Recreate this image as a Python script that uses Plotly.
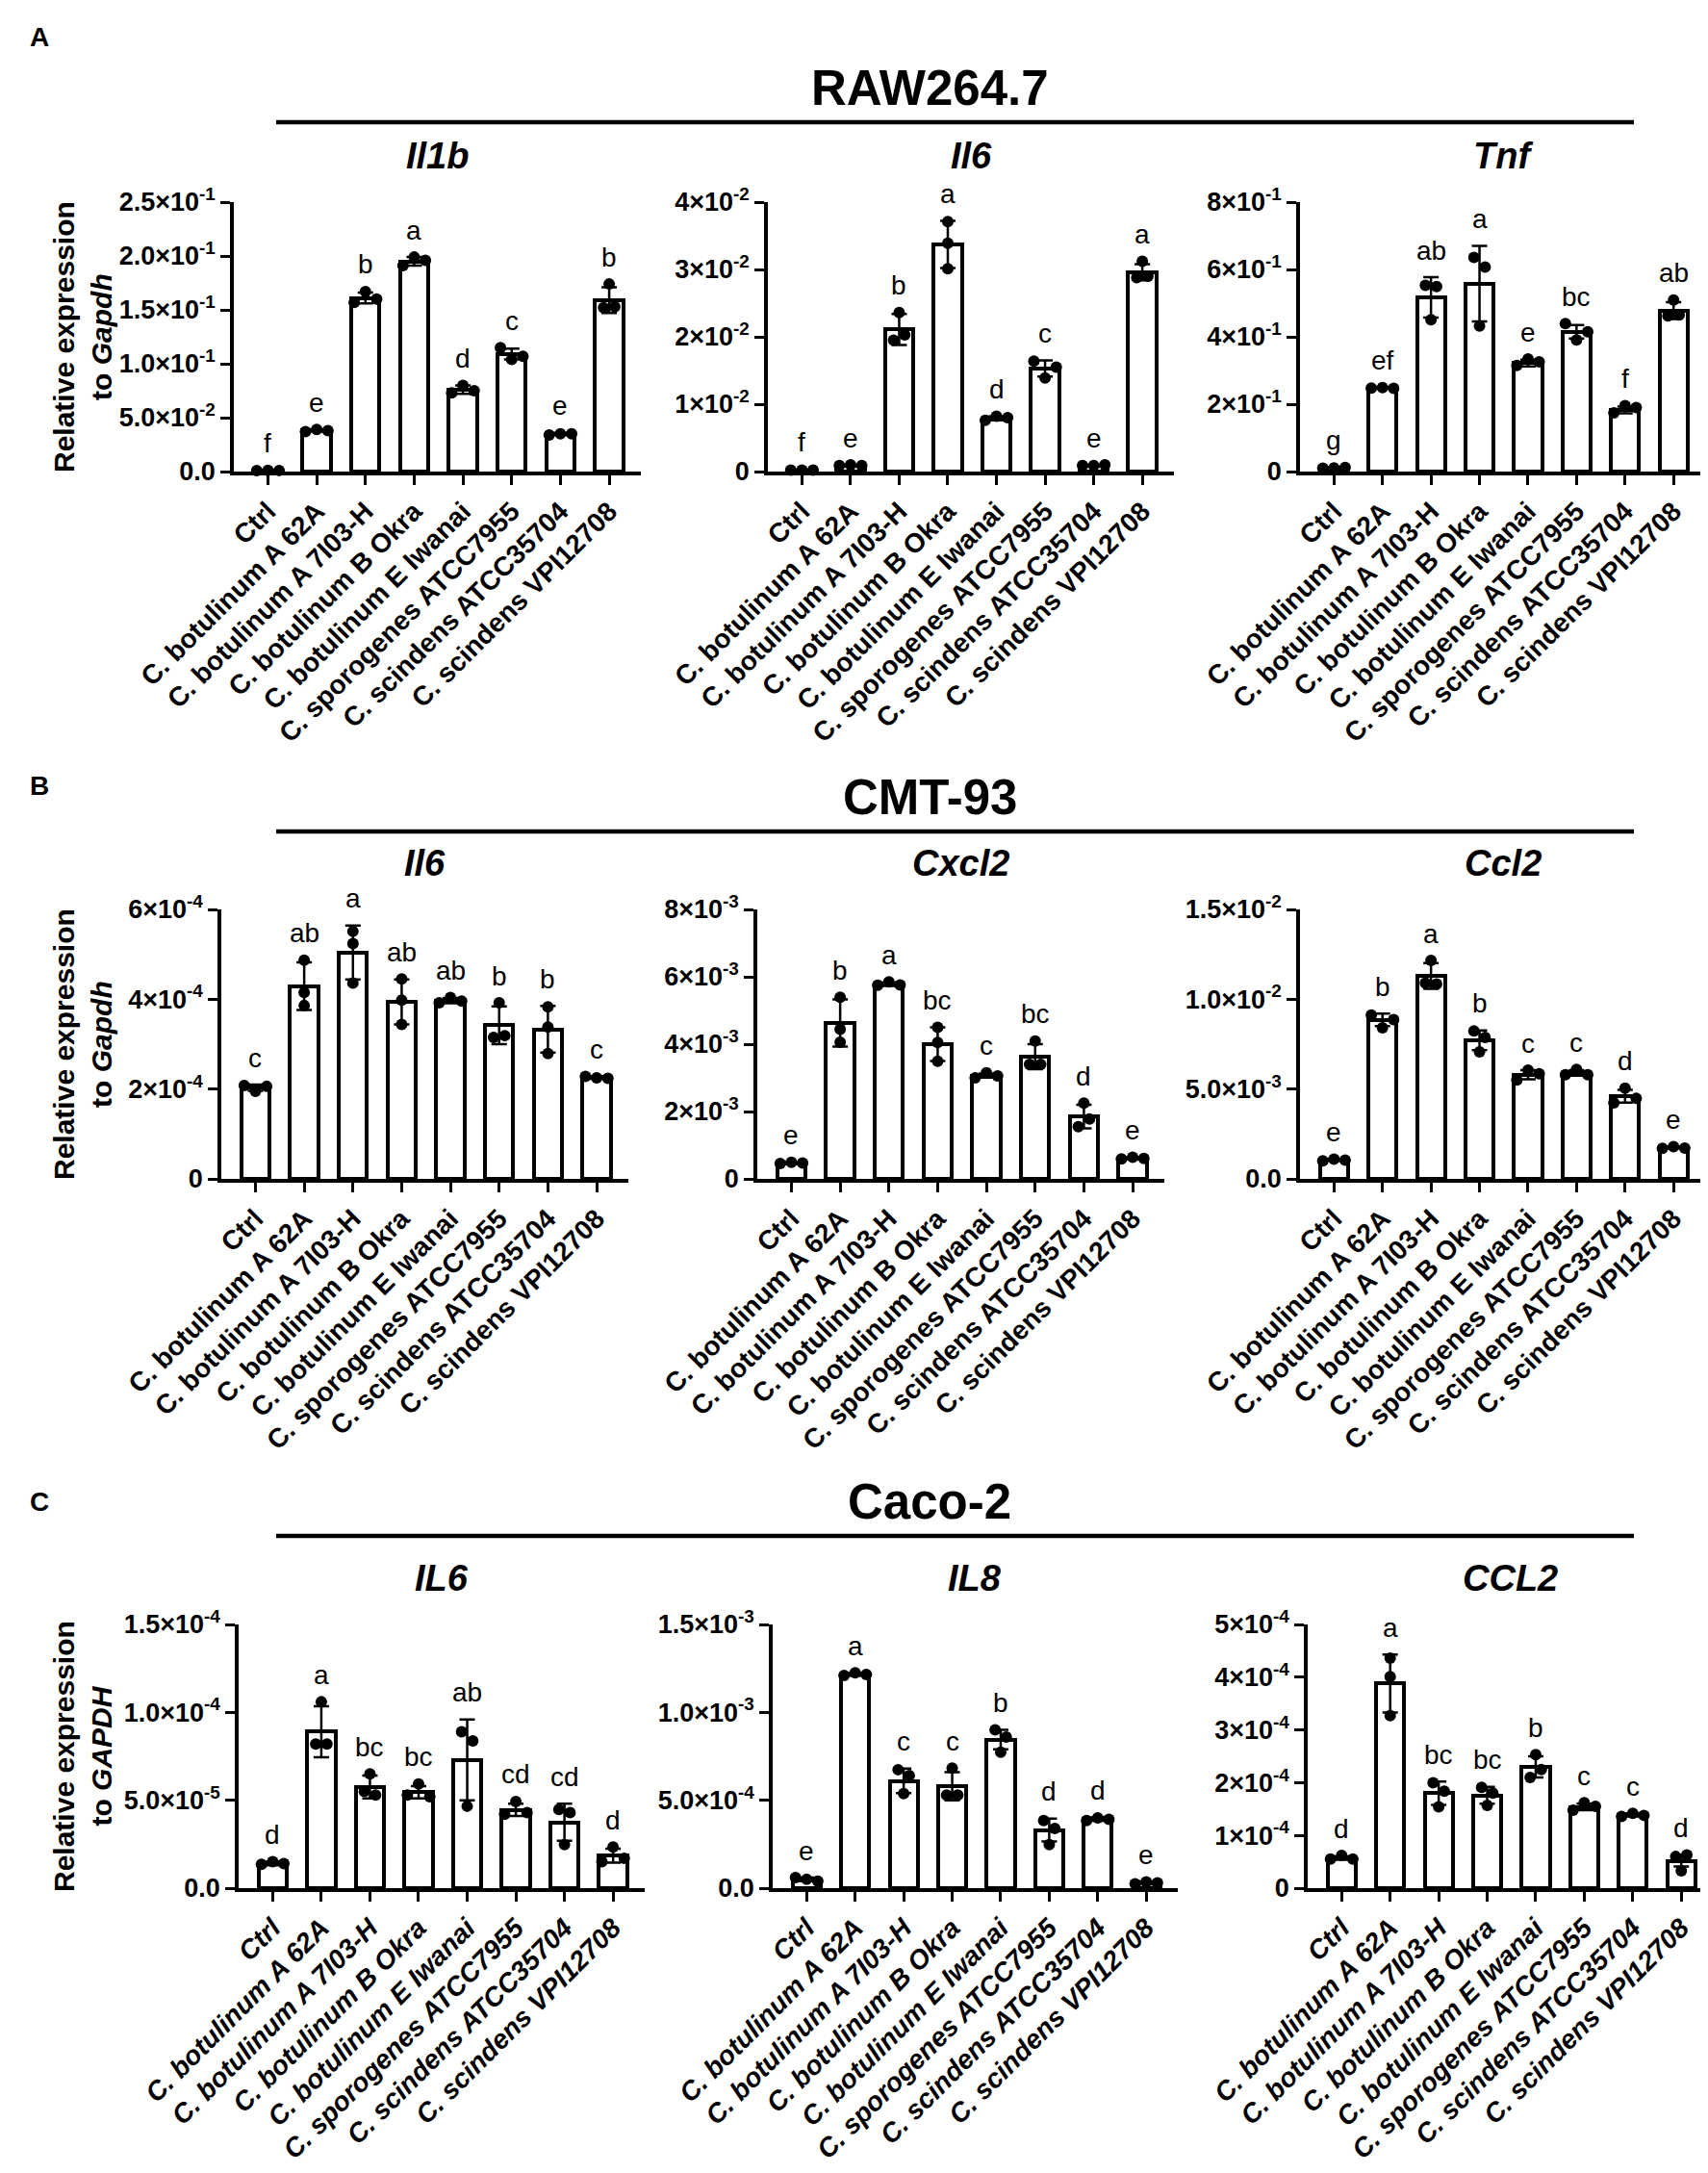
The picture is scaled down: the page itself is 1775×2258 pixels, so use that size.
import plotly.graph_objects as go

W, H = 1775, 2258
FONT = "Arial, Liberation Sans, sans-serif"

strains = ["Ctrl", "C. botulinum A 62A", "C. botulinum A 7I03-H", "C. botulinum B Okra",
           "C. botulinum E Iwanai", "C. sporogenes ATCC7955", "C. scindens ATCC35704",
           "C. scindens VPI12708"]

# ---- A: RAW264.7 ----
il1b_mean = [0.001, 0.038, 0.161, 0.195, 0.076, 0.109, 0.035, 0.159]
il1b_err = [0.0005, 0.001, 0.005, 0.004, 0.004, 0.005, 0.001, 0.012]
il1b_pts = [[0.0008, 0.0012, 0.001], [0.037, 0.039, 0.038], [0.157, 0.167, 0.160],
            [0.191, 0.199, 0.196], [0.073, 0.080, 0.075], [0.115, 0.104, 0.107],
            [0.034, 0.035, 0.035], [0.152, 0.174, 0.153]]
il1b_sig = ["f", "e", "b", "a", "d", "c", "e", "b"]

il6a_mean = [0.0002, 0.0009, 0.0211, 0.0337, 0.0079, 0.0153, 0.0009, 0.0296]
il6a_err = [0.0001, 0.0001, 0.0023, 0.0035, 0.0003, 0.0012, 0.0001, 0.0012]
il6a_pts = [[0.0002, 0.0002, 0.0002], [0.0009, 0.0010, 0.0009], [0.0195, 0.0236, 0.0203],
            [0.0301, 0.0339, 0.0371], [0.0076, 0.0082, 0.0080], [0.0164, 0.0139, 0.0155],
            [0.0009, 0.0009, 0.0010], [0.0288, 0.0312, 0.0290]]
il6a_sig = ["f", "e", "b", "a", "d", "c", "e", "a"]

tnf_mean = [0.011, 0.248, 0.517, 0.558, 0.322, 0.415, 0.183, 0.478]
tnf_err = [0.002, 0.002, 0.06, 0.112, 0.01, 0.02, 0.01, 0.025]
tnf_pts = [[0.010, 0.011, 0.012], [0.248, 0.249, 0.247], [0.553, 0.451, 0.549],
           [0.636, 0.432, 0.607], [0.315, 0.334, 0.326], [0.439, 0.391, 0.415],
           [0.174, 0.196, 0.190], [0.462, 0.509, 0.465]]
tnf_sig = ["g", "ef", "ab", "a", "e", "bc", "f", "ab"]

# ---- B: CMT-93 ----
il6b_mean = [2.03e-4, 4.29e-4, 5.04e-4, 3.94e-4, 3.97e-4, 3.42e-4, 3.33e-4, 2.26e-4]
il6b_err = [0.07e-4, 0.53e-4, 0.6e-4, 0.5e-4, 0.06e-4, 0.42e-4, 0.52e-4, 0.03e-4]
il6b_pts = [[2.08e-4, 1.95e-4, 2.06e-4], [4.87e-4, 4.15e-4, 3.86e-4], [5.51e-4, 5.24e-4, 4.36e-4],
            [4.45e-4, 3.98e-4, 3.44e-4], [3.92e-4, 4.04e-4, 3.96e-4], [3.92e-4, 3.15e-4, 3.19e-4],
            [3.83e-4, 3.38e-4, 2.79e-4], [2.28e-4, 2.25e-4, 2.24e-4]]
il6b_sig = ["c", "ab", "a", "ab", "ab", "b", "b", "c"]

cxcl2_mean = [0.47e-3, 4.63e-3, 5.78e-3, 4.0e-3, 3.07e-3, 3.63e-3, 1.85e-3, 0.61e-3]
cxcl2_err = [0.03e-3, 0.7e-3, 0.05e-3, 0.5e-3, 0.06e-3, 0.37e-3, 0.35e-3, 0.03e-3]
cxcl2_pts = [[0.46e-3, 0.49e-3, 0.47e-3], [5.39e-3, 4.44e-3, 4.06e-3], [5.75e-3, 5.85e-3, 5.76e-3],
             [4.5e-3, 4.05e-3, 3.49e-3], [3.0e-3, 3.15e-3, 3.06e-3], [3.4e-3, 4.09e-3, 3.4e-3],
             [1.55e-3, 2.25e-3, 1.78e-3], [0.59e-3, 0.64e-3, 0.61e-3]]
cxcl2_sig = ["e", "b", "a", "bc", "c", "bc", "d", "e"]

ccl2b_mean = [1.05e-3, 8.85e-3, 11.3e-3, 7.72e-3, 5.8e-3, 5.9e-3, 4.6e-3, 1.75e-3]
ccl2b_err = [0.05e-3, 0.35e-3, 0.72e-3, 0.55e-3, 0.25e-3, 0.15e-3, 0.35e-3, 0.05e-3]
ccl2b_pts = [[1.0e-3, 1.1e-3, 1.05e-3], [9.12e-3, 8.41e-3, 8.87e-3], [10.9e-3, 12.16e-3, 10.85e-3],
             [8.23e-3, 7.07e-3, 7.87e-3], [5.5e-3, 6.05e-3, 5.85e-3], [5.8e-3, 6.1e-3, 5.8e-3],
             [4.23e-3, 5.05e-3, 4.48e-3], [1.7e-3, 1.8e-3, 1.72e-3]]
ccl2b_sig = ["e", "b", "a", "b", "c", "c", "d", "e"]

# ---- C: Caco-2 ----
il6c_mean = [1.4e-5, 8.9e-5, 5.75e-5, 5.45e-5, 7.3e-5, 4.45e-5, 3.75e-5, 1.85e-5]
il6c_err = [0.1e-5, 1.45e-5, 0.65e-5, 0.35e-5, 2.3e-5, 0.35e-5, 1.05e-5, 0.4e-5]
il6c_pts = [[1.35e-5, 1.5e-5, 1.4e-5], [8.2e-5, 10.6e-5, 8.2e-5], [5.5e-5, 6.5e-5, 5.3e-5],
            [5.3e-5, 5.92e-5, 5.2e-5], [8.9e-5, 4.66e-5, 8.37e-5], [4.2e-5, 4.93e-5, 4.3e-5],
            [4.47e-5, 2.48e-5, 4.3e-5], [1.5e-5, 2.34e-5, 1.7e-5]]
il6c_sig = ["d", "a", "bc", "bc", "ab", "cd", "cd", "d"]

il8_mean = [0.05e-3, 1.217e-3, 0.61e-3, 0.58e-3, 0.845e-3, 0.33e-3, 0.393e-3, 0.03e-3]
il8_err = [0.01e-3, 0.008e-3, 0.07e-3, 0.08e-3, 0.055e-3, 0.065e-3, 0.01e-3, 0.008e-3]
il8_pts = [[0.06e-3, 0.05e-3, 0.04e-3], [1.21e-3, 1.225e-3, 1.215e-3], [0.674e-3, 0.538e-3, 0.64e-3],
           [0.53e-3, 0.683e-3, 0.53e-3], [0.9e-3, 0.773e-3, 0.86e-3], [0.384e-3, 0.248e-3, 0.34e-3],
           [0.385e-3, 0.40e-3, 0.392e-3], [0.025e-3, 0.035e-3, 0.03e-3]]
il8_sig = ["e", "a", "c", "c", "b", "d", "d", "e"]

ccl2c_mean = [0.57e-4, 3.88e-4, 1.8e-4, 1.76e-4, 2.3e-4, 1.54e-4, 1.39e-4, 0.52e-4]
ccl2c_err = [0.03e-4, 0.55e-4, 0.22e-4, 0.16e-4, 0.2e-4, 0.06e-4, 0.03e-4, 0.11e-4]
ccl2c_pts = [[0.55e-4, 0.62e-4, 0.55e-4], [4.36e-4, 4.01e-4, 3.27e-4], [2.0e-4, 1.54e-4, 1.84e-4],
             [1.91e-4, 1.57e-4, 1.8e-4], [2.1e-4, 2.53e-4, 2.25e-4], [1.48e-4, 1.62e-4, 1.55e-4],
             [1.36e-4, 1.42e-4, 1.38e-4], [0.6e-4, 0.33e-4, 0.63e-4]]
ccl2c_sig = ["d", "a", "bc", "bc", "b", "c", "c", "d"]

# y tick values / labels
il1b_tv = [0, 0.05, 0.1, 0.15, 0.2, 0.25]
il1b_tt = ["0.0", "5.0×10<sup>-2</sup>", "1.0×10<sup>-1</sup>", "1.5×10<sup>-1</sup>",
           "2.0×10<sup>-1</sup>", "2.5×10<sup>-1</sup>"]
il6a_tv = [0, 0.01, 0.02, 0.03, 0.04]
il6a_tt = ["0", "1×10<sup>-2</sup>", "2×10<sup>-2</sup>", "3×10<sup>-2</sup>", "4×10<sup>-2</sup>"]
tnf_tv = [0, 0.2, 0.4, 0.6, 0.8]
tnf_tt = ["0", "2×10<sup>-1</sup>", "4×10<sup>-1</sup>", "6×10<sup>-1</sup>", "8×10<sup>-1</sup>"]
il6b_tv = [0, 2e-4, 4e-4, 6e-4]
il6b_tt = ["0", "2×10<sup>-4</sup>", "4×10<sup>-4</sup>", "6×10<sup>-4</sup>"]
cxcl2_tv = [0, 2e-3, 4e-3, 6e-3, 8e-3]
cxcl2_tt = ["0", "2×10<sup>-3</sup>", "4×10<sup>-3</sup>", "6×10<sup>-3</sup>", "8×10<sup>-3</sup>"]
ccl2b_tv = [0, 5e-3, 1e-2, 1.5e-2]
ccl2b_tt = ["0.0", "5.0×10<sup>-3</sup>", "1.0×10<sup>-2</sup>", "1.5×10<sup>-2</sup>"]
il6c_tv = [0, 5e-5, 1e-4, 1.5e-4]
il6c_tt = ["0.0", "5.0×10<sup>-5</sup>", "1.0×10<sup>-4</sup>", "1.5×10<sup>-4</sup>"]
il8_tv = [0, 5e-4, 1e-3, 1.5e-3]
il8_tt = ["0.0", "5.0×10<sup>-4</sup>", "1.0×10<sup>-3</sup>", "1.5×10<sup>-3</sup>"]
ccl2c_tv = [0, 1e-4, 2e-4, 3e-4, 4e-4, 5e-4]
ccl2c_tt = ["0", "1×10<sup>-4</sup>", "2×10<sup>-4</sup>", "3×10<sup>-4</sup>", "4×10<sup>-4</sup>",
            "5×10<sup>-4</sup>"]

# panel layout in pixels: (gene, mean, err, pts, sig, tickvals, ticktext, x0, x1, ytop, ybottom, italic labels)
panels = [
    ("Il1b", il1b_mean, il1b_err, il1b_pts, il1b_sig, il1b_tv, il1b_tt, 235, 658, 202, 482, False),
    ("Il6", il6a_mean, il6a_err, il6a_pts, il6a_sig, il6a_tv, il6a_tt, 790, 1212, 202, 482, False),
    ("Tnf", tnf_mean, tnf_err, tnf_pts, tnf_sig, tnf_tv, tnf_tt, 1343, 1764, 202, 482, False),
    ("Il6", il6b_mean, il6b_err, il6b_pts, il6b_sig, il6b_tv, il6b_tt, 222, 645, 937, 1217, False),
    ("Cxcl2", cxcl2_mean, cxcl2_err, cxcl2_pts, cxcl2_sig, cxcl2_tv, cxcl2_tt, 779, 1202, 937, 1217, False),
    ("Ccl2", ccl2b_mean, ccl2b_err, ccl2b_pts, ccl2b_sig, ccl2b_tv, ccl2b_tt, 1343, 1764, 937, 1217, False),
    ("IL6", il6c_mean, il6c_err, il6c_pts, il6c_sig, il6c_tv, il6c_tt, 240, 662, 1680, 1954, True),
    ("IL8", il8_mean, il8_err, il8_pts, il8_sig, il8_tv, il8_tt, 795, 1216, 1680, 1954, True),
    ("CCL2", ccl2c_mean, ccl2c_err, ccl2c_pts, ccl2c_sig, ccl2c_tv, ccl2c_tt, 1351, 1772, 1680, 1954, True),
]


def px(x):
    return x / W


def py(y):
    return 1 - y / H


def dot_offsets(vals, px_per_unit):
    # spread dots sideways when they would overlap, like a Prism scatter
    order = sorted(range(len(vals)), key=lambda k: vals[k])
    groups, cur = [], [order[0]]
    for k in order[1:]:
        if (vals[k] - vals[cur[-1]]) * px_per_unit < 12:
            cur.append(k)
        else:
            groups.append(cur)
            cur = [k]
    groups.append(cur)
    offs = [0.0] * len(vals)
    for g in groups:
        g = sorted(g)
        n = len(g)
        for j, k in enumerate(g):
            offs[k] = (j - (n - 1) / 2) * 0.23
    return offs


fig = go.Figure()
annotations = []
layout = {}

for i, (gene, mean, err, pts, sig, tv, tt, x0, x1, ytop, ybot, ital) in enumerate(panels):
    n = i + 1
    xa = "x" if n == 1 else f"x{n}"
    ya = "y" if n == 1 else f"y{n}"
    ymax = tv[-1]
    ppu = (ybot - ytop) / ymax
    cats = list(range(len(strains)))

    fig.add_trace(go.Bar(
        x=cats, y=mean, width=0.58, xaxis=xa, yaxis=ya,
        marker=dict(color="white", line=dict(color="black", width=4)),
        error_y=dict(type="data", array=err, color="black", thickness=2.5, width=8),
        cliponaxis=False,
    ))
    xs, ys = [], []
    for c, vals in zip(cats, pts):
        for o, v in zip(dot_offsets(vals, ppu), vals):
            xs.append(c + o)
            ys.append(v)
    fig.add_trace(go.Scatter(
        x=xs, y=ys, mode="markers", xaxis=xa, yaxis=ya, cliponaxis=False,
        marker=dict(color="black", size=12),
    ))

    for c, s in enumerate(sig):
        top = max(mean[c] + err[c], max(pts[c]))
        annotations.append(dict(
            x=c, y=top, xref=xa, yref=ya, text=s, showarrow=False,
            yanchor="middle", yshift=28,
            font=dict(family=FONT, size=28, color="black"),
        ))

    tickfont = dict(family=FONT, size=28, color="black", weight="bold")
    if ital:
        tickfont["style"] = "italic"
    layout["xaxis" if n == 1 else f"xaxis{n}"] = dict(
        domain=[px(x0), px(x1)], anchor=ya, range=[-0.7, 7.65],
        tickmode="array", tickvals=cats, ticktext=strains, tickangle=-45,
        ticks="outside", ticklen=10, tickwidth=3, tickcolor="black",
        showline=True, linewidth=3.5, linecolor="black",
        showgrid=False, zeroline=False, tickfont=tickfont, automargin=False,
    )
    layout["yaxis" if n == 1 else f"yaxis{n}"] = dict(
        domain=[py(ybot), py(ytop)], anchor=xa, range=[0, ymax],
        tickmode="array", tickvals=tv, ticktext=tt,
        ticks="outside", ticklen=10, tickwidth=3, tickcolor="black",
        showline=True, linewidth=3.5, linecolor="black",
        showgrid=False, zeroline=False, automargin=False,
        tickfont=dict(family=FONT, size=27, color="black", weight="bold"),
    )

    # gene title over each panel
    annotations.append(dict(
        x=px((x0 + x1) / 2), y=py(ytop - 48), xref="paper", yref="paper",
        text=gene, showarrow=False, xanchor="center", yanchor="middle",
        font=dict(family=FONT, size=38, color="black", weight="bold", style="italic"),
    ))

# row headers, letters, y titles
rows = [("A", "RAW264.7", 119, 342, "Gapdh", 31),
        ("B", "CMT-93", 856, 1077, "Gapdh", 808),
        ("C", "Caco-2", 1588, 1817, "GAPDH", 1552)]
shapes = []
for letter, cell, line_y, mid_y, ref, ly in rows:
    shapes.append(dict(type="line", xref="paper", yref="paper",
                       x0=px(279), x1=px(1690), y0=py(line_y), y1=py(line_y),
                       line=dict(color="black", width=4.5)))
    annotations.append(dict(
        x=px(958), y=py(line_y - 36), xref="paper", yref="paper", text=cell,
        showarrow=False, xanchor="center", yanchor="middle",
        font=dict(family=FONT, size=51, color="black", weight="bold"),
    ))
    annotations.append(dict(
        x=px(33), y=py(ly), xref="paper", yref="paper", text=letter,
        showarrow=False, xanchor="center", yanchor="middle",
        font=dict(family=FONT, size=28, color="black", weight="bold"),
    ))
    annotations.append(dict(
        x=px(78), y=py(mid_y), xref="paper", yref="paper",
        text=f"Relative expression<br>to <i>{ref}</i>", textangle=-90,
        showarrow=False, xanchor="center", yanchor="middle",
        font=dict(family=FONT, size=30, color="black", weight="bold"),
    ))

fig.update_layout(
    width=W, height=H, template="none", showlegend=False,
    margin=dict(l=0, r=0, t=0, b=0),
    paper_bgcolor="white", plot_bgcolor="white",
    annotations=annotations, shapes=shapes, bargap=0,
    **layout,
)

fig.write_html("out.html")
